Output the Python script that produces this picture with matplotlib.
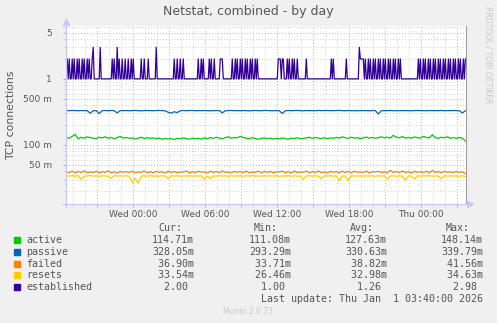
import numpy as np
from matplotlib import pyplot as plt
from matplotlib.patches import Rectangle
from matplotlib.lines import Line2D

W, H = 497, 323

# hours relative to Wed 00:00
last_update_h = 27 + 40 / 60
x_left_h, x_right_h = -5.6, 27.72

# established, one char per 5 min sample
established_str = (
    "21211212112121121211212112" "31111113" "1111111111"
    "1212113121121121121121211" "1111" "121121" "1" "1211" "11111" "31"
    "111111111111111" "1211211211211" "11111111111" "12112121" "111"
    "12121121" "111" "12221" "1111111" "1211212112121121211212112121"
    "111111111111111111" "12221221" "1" "1212112121121" "111111" "121"
    "1111111111111111111111" "12121" "1111111111" "121" "1111111111"
    "13" "2222121121211212112121121211212112121121211"
    "11111111111111" "1212112121121211212112121121211212112121121211212"
)
established = [int(c) for c in established_str]

# 15 min samples, milli-units
active_m = [130,127,135,145,124,131,126,133,129,127,
            125,131,128,133,126,130,124,129,135,127,
            130,126,128,123,127,131,125,129,126,128,
            124,127,122,126,123,125,121,126,124,128,
            125,122,127,124,126,123,128,125,129,126,
            131,127,124,129,133,126,130,128,135,129,
            127,124,129,125,122,126,128,124,127,123,
            126,124,128,125,122,127,125,129,124,126,
            128,131,126,130,127,125,129,124,128,126,
            130,127,133,128,126,131,127,129,125,128,
            132,127,130,126,129,133,128,131,127,140,
            131,128,134,127,130,126,132,129,127,135,
            130,128,143,129,126,131,128,133,127,129,
            126,130,127,115]
passive_m = [332,330,333,331,329,332,330,331,302,329,
             331,298,330,332,329,333,330,306,331,330,
             332,329,331,333,330,328,331,332,330,329,
             331,333,330,328,312,304,318,309,329,332,
             330,331,333,329,331,330,332,330,328,331,
             330,332,306,329,331,333,330,331,329,332,
             330,328,331,332,330,329,333,331,330,329,
             331,330,300,328,332,330,331,333,330,329,
             332,330,331,329,333,330,332,331,329,330,
             331,333,330,329,332,330,331,328,332,330,
             331,329,330,332,294,329,331,330,333,330,
             329,331,330,332,330,329,331,333,330,331,
             329,332,330,331,330,333,329,331,330,332,
             330,329,305,328]
failed_m = [39.2,38.1,40.3,37.6,39.8,38.4,40.6,37.9,39.1,38.3,
            40.2,37.8,39.5,38.6,40.8,38.0,39.3,37.4,40.1,38.7,
            39.6,38.2,40.4,37.7,39.0,38.5,40.7,38.1,39.4,37.9,
            40.0,38.6,39.2,37.5,40.3,38.4,39.8,38.0,39.1,38.8,
            40.5,37.8,39.6,38.3,40.1,38.9,39.3,37.6,40.2,38.4,
            39.7,38.1,40.6,38.5,39.2,37.9,40.0,38.7,39.5,38.2,
            40.4,37.7,39.1,38.6,40.3,38.0,39.8,38.4,40.1,37.8,
            39.4,38.9,40.2,38.1,39.6,37.5,40.5,38.3,39.0,38.7,
            40.1,37.9,39.7,38.4,40.6,38.2,39.3,37.6,40.0,38.8,
            39.5,38.0,40.3,38.5,39.9,37.8,40.2,38.6,39.1,38.3,
            40.4,37.7,39.6,38.9,40.1,38.2,39.4,37.9,41.5,38.4,
            39.8,38.1,40.5,38.6,39.2,37.6,40.0,38.7,39.5,38.2,
            40.3,37.9,41.2,38.5,39.7,38.0,40.1,38.6,39.3,38.1,
            40.0,38.4,39.2,36.9]
resets_m = [34.1,33.8,34.3,33.9,34.2,30.2,33.7,34.0,34.4,33.8,
            34.1,33.6,34.2,34.0,33.7,31.0,34.3,33.9,34.1,33.8,
            34.2,33.7,27.0,31.5,26.5,33.9,34.1,33.6,34.3,33.8,
            34.0,33.7,34.2,33.9,31.0,34.1,33.8,34.3,33.6,34.0,
            33.9,34.2,33.7,34.1,33.8,34.3,30.5,33.9,31.2,34.0,
            33.8,34.2,33.9,34.1,33.6,34.3,33.8,34.0,34.2,33.7,
            34.1,33.9,34.3,33.8,34.0,33.7,34.2,33.9,34.1,33.8,
            34.3,33.6,34.0,33.9,34.2,33.7,34.1,33.8,34.0,30.5,
            33.9,34.2,33.7,34.1,33.8,31.0,34.0,33.9,34.3,33.7,
            34.1,29.0,33.8,34.2,28.5,33.9,34.1,33.7,34.0,33.8,
            34.2,33.9,34.1,33.6,34.3,33.8,34.0,30.5,33.9,34.2,
            33.7,34.1,33.8,29.0,34.0,33.9,30.5,34.2,33.8,34.1,
            33.9,34.3,33.7,34.0,33.8,31.0,34.1,33.9,34.2,33.8,
            34.0,33.7,34.1,33.5]

names = ["active", "passive", "failed", "resets", "established"]
colors = ["#00CC00", "#0066B3", "#FF8000", "#FFCC00", "#330099"]
cur = ["114.71m", "328.05m", " 36.90m", " 33.54m", "  2.00 "]
mins = ["111.08m", "293.29m", " 33.71m", " 26.46m", "  1.00 "]
avgs = ["127.63m", "330.63m", " 38.82m", " 32.98m", "  1.26 "]
maxs = ["148.14m", "339.79m", " 41.56m", " 34.63m", "  2.98 "]

xtick_hours = [0, 6, 12, 18, 24]
xtick_labels = ["Wed 00:00", "Wed 06:00", "Wed 12:00", "Wed 18:00", "Thu 00:00"]
ytick_vals = [0.05, 0.1, 0.5, 1, 5]
ytick_labels = ["50 m", "100 m", "500 m", "1", "5"]

txt = "#555555"
red_grid = "#e8a0a0"
gray_grid = "#d0d0d0"
axis_col = "#c8c8f8"

fig = plt.figure(figsize=(W / 100, H / 100), dpi=100, facecolor="#f0f0f0")
ax = fig.add_axes([66 / W, 1 - 204 / H, 400 / W, 178 / H])
ax.set_facecolor("white")

n_e = len(established)
t_e = last_update_h - (n_e - 1 - np.arange(n_e)) / 12
n_s = len(active_m)
t_s = last_update_h - (n_s - 1 - np.arange(n_s)) * 0.25

series = [np.array(active_m) / 1000, np.array(passive_m) / 1000,
          np.array(failed_m) / 1000, np.array(resets_m) / 1000]
for vals, c in zip(series, colors[:4]):
    ax.plot(t_s, vals, color=c, lw=0.9, zorder=3)
ax.plot(t_e, established, color=colors[4], lw=0.9, zorder=4)

ax.set_yscale("log")
ax.set_ylim(0.0128, 6.3)
ax.set_xlim(x_left_h, x_right_h)

ax.set_yticks(ytick_vals)
ax.set_yticklabels(ytick_labels)
minor_y = [k * 10.0 ** e for e in (-2, -1, 0) for k in range(1, 10)
           if k not in (1, 5) or e == -2]
ax.set_yticks([v for v in minor_y if 0.0128 < v < 6.3] + [6], minor=True)
ax.yaxis.set_minor_formatter(plt.NullFormatter())

ax.set_xticks(np.arange(-3, 28, 3))
ax.set_xticklabels([xtick_labels[xtick_hours.index(h)] if h in xtick_hours else ""
                    for h in range(-3, 28, 3)])
ax.set_xticks([h for h in range(-5, 28) if h % 3 != 0], minor=True)

ax.grid(which="major", color=red_grid, linestyle=(0, (1, 2)), lw=0.7)
ax.grid(which="minor", color=gray_grid, linestyle=(0, (1, 2)), lw=0.7)
ax.tick_params(which="major", length=2, color=red_grid, labelsize=6.5,
               labelcolor=txt, pad=2)
ax.tick_params(which="minor", length=2, color=gray_grid)
ax.tick_params(axis="y", pad=8)

for s in ["top", "left", "bottom"]:
    ax.spines[s].set_visible(False)
ax.spines["right"].set_color("#a0a0a0")
ax.spines["right"].set_linewidth(0.8)


def fx(x):
    return x / W


def fy(y):
    return 1 - y / H


fig.lines.append(Line2D([fx(66), fx(66)], [fy(207), fy(24)], color=axis_col,
                        lw=0.9, transform=fig.transFigure))
fig.lines.append(Line2D([fx(63), fx(468)], [fy(204), fy(204)], color=axis_col,
                        lw=0.9, transform=fig.transFigure))
fig.lines.append(Line2D([fx(66)], [fy(22)], marker="^", ms=5, color=axis_col,
                        transform=fig.transFigure))
fig.lines.append(Line2D([fx(470)], [fy(204)], marker=">", ms=5, color=axis_col,
                        transform=fig.transFigure))

fig.text(fx(248), fy(12), "Netstat, combined - by day", ha="center", va="center",
         fontsize=9, color=txt)
fig.text(fx(11), fy(115), "TCP connections", ha="center", va="center",
         rotation=90, fontsize=7.8, color=txt)
fig.text(fx(488), fy(55), "RRDTOOL / TOBI OETIKER", ha="center", va="center",
         rotation=270, fontsize=5.5, color="#c8c8c8")

mono = dict(family="DejaVu Sans Mono", fontsize=7.2, color=txt, va="center")
heads = ["Cur:", "Min:", "Avg:", "Max:"]
head_x = [182, 278, 374, 470]
val_x = [194, 291, 387, 483]
for hx, h in zip(head_x, heads):
    fig.text(fx(hx), fy(228), h, ha="right", **mono)
for i, name in enumerate(names):
    y = 240 + i * 11.8
    fig.patches.append(Rectangle((fx(14), fy(y + 3)), 6 / W, 6 / H,
                                 color=colors[i], transform=fig.transFigure))
    fig.text(fx(26), fy(y), name, ha="left", **mono)
    for vx, col in zip(val_x, [cur, mins, avgs, maxs]):
        fig.text(fx(vx), fy(y), col[i], ha="right", **mono)
fig.text(fx(483), fy(299), "Last update: Thu Jan  1 03:40:00 2026", ha="right", **mono)
fig.text(fx(248), fy(312), "Munin 2.0.73", ha="center", va="center",
         fontsize=5.5, color="#c8c8c8")

fig.savefig("out.png", dpi=100, facecolor=fig.get_facecolor())
